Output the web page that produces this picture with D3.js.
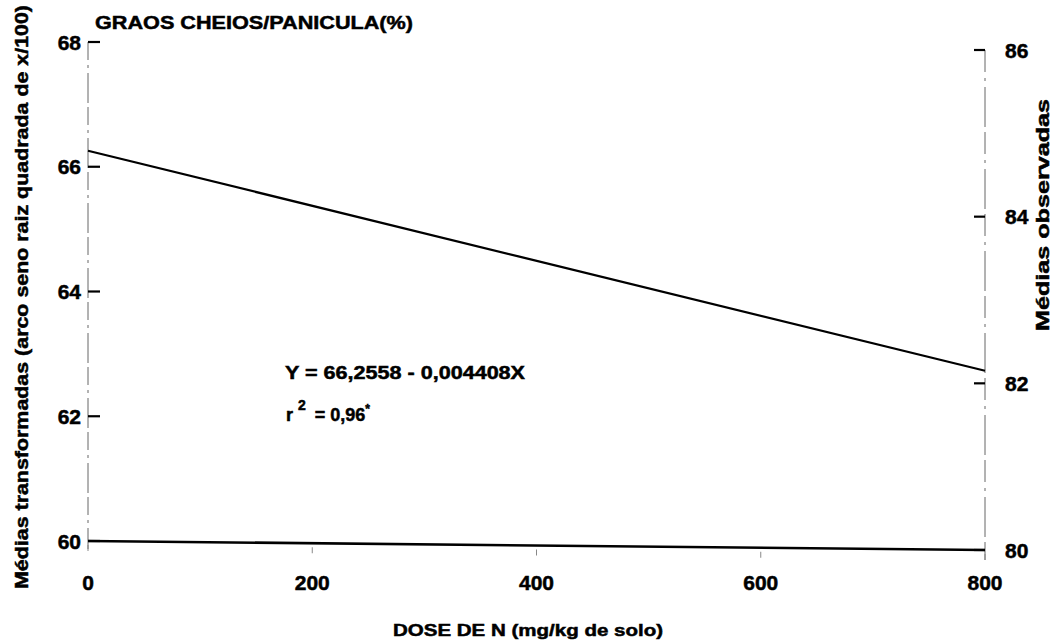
<!DOCTYPE html>
<html>
<head>
<meta charset="utf-8">
<script src="https://cdn.jsdelivr.net/npm/d3@7"></script>
<style>
  html, body { margin: 0; padding: 0; background: #fff; }
  svg { display: block; }
  text { font-family: "Liberation Sans", Arial, sans-serif; font-weight: bold; fill: #000; stroke: #000; stroke-width: 0.5; }
</style>
</head>
<body>
<svg id="chart" width="1062" height="641"></svg>
<script>
// Dose of nitrogen (mg/kg of soil) at the ends of the fitted line
const doses = [0, 800];
// Fitted transformed means at those doses: Y = 66,2558 - 0,004408X
const fittedValues = [66.2558, 62.7294];

const xTickValues = [0, 200, 400, 600, 800];
const leftTickValues = [60, 62, 64, 66, 68];
const rightTickValues = [80, 82, 84, 86];

const chartTitle = "GRAOS CHEIOS/PANICULA(%)";
const xTitle = "DOSE DE N (mg/kg de solo)";
const leftTitle = "Médias transformadas (arco seno raiz quadrada de x/100)";
const rightTitle = "Médias observadas";
const equationText = "Y = 66,2558 - 0,004408X";

const svg = d3.select("#chart");

const x = d3.scaleLinear().domain([0, 800]).range([88, 985]);
const yLeft = d3.scaleLinear().domain([60, 68]).range([541, 42]);
const yRight = d3.scaleLinear().domain([80, 86]).range([550, 50]);

// vertical axis lines (light, broken stroke)
svg.append("line")
  .attr("x1", x(0)).attr("x2", x(0))
  .attr("y1", yLeft(68)).attr("y2", yLeft(60) + 8)
  .attr("stroke", "#666").attr("stroke-width", 1)
  .attr("stroke-dasharray", "18,5,3,5,30,4");
svg.append("line")
  .attr("x1", x(800)).attr("x2", x(800))
  .attr("y1", yRight(86)).attr("y2", yRight(80) + 10)
  .attr("stroke", "#666").attr("stroke-width", 1)
  .attr("stroke-dasharray", "22,6,3,6,40,5");

// baseline from the left 60 level to the right 80 level
svg.append("line")
  .attr("x1", x(0)).attr("y1", yLeft(60))
  .attr("x2", x(800)).attr("y2", yRight(80))
  .attr("stroke", "#000").attr("stroke-width", 2.6);

// left ticks (inward)
const gl = svg.append("g");
gl.selectAll("line").data(leftTickValues).join("line")
  .attr("x1", x(0)).attr("x2", x(0) + 12)
  .attr("y1", d => yLeft(d)).attr("y2", d => yLeft(d))
  .attr("stroke", "#000").attr("stroke-width", 2.2);
gl.selectAll("text").data(leftTickValues).join("text")
  .attr("x", 81).attr("y", d => yLeft(d))
  .attr("text-anchor", "end").attr("dominant-baseline", "central")
  .attr("font-size", 21)
  .text(d => d);

// right ticks (inward)
const gr = svg.append("g");
gr.selectAll("line").data(rightTickValues).join("line")
  .attr("x1", x(800) - 11).attr("x2", x(800))
  .attr("y1", d => yRight(d)).attr("y2", d => yRight(d))
  .attr("stroke", "#000").attr("stroke-width", 2.2);
gr.selectAll("text").data(rightTickValues).join("text")
  .attr("x", 1005).attr("y", d => yRight(d))
  .attr("text-anchor", "start").attr("dominant-baseline", "central")
  .attr("font-size", 21)
  .text(d => d);

// bottom ticks and labels
const gx = svg.append("g");
gx.selectAll("line").data(xTickValues).join("line")
  .attr("x1", d => x(d)).attr("x2", d => x(d))
  .attr("y1", d => yLeft(60) + (yRight(80) - yLeft(60)) * d / 800 + 4)
  .attr("y2", d => yLeft(60) + (yRight(80) - yLeft(60)) * d / 800 + 10)
  .attr("stroke", "#888").attr("stroke-width", 1);
gx.selectAll("text").data(xTickValues).join("text")
  .attr("x", d => x(d)).attr("y", 582)
  .attr("text-anchor", "middle").attr("dominant-baseline", "central")
  .attr("font-size", 21)
  .text(d => d);

// fitted regression line
svg.append("path")
  .datum(doses.map((d, i) => [d, fittedValues[i]]))
  .attr("fill", "none").attr("stroke", "#000").attr("stroke-width", 2.2)
  .attr("d", d3.line().x(d => x(d[0])).y(d => yLeft(d[1])));

// titles
svg.append("text")
  .attr("x", 95).attr("y", 22).attr("dominant-baseline", "central")
  .attr("font-size", 19).attr("textLength", 318).attr("lengthAdjust", "spacingAndGlyphs")
  .text(chartTitle);

svg.append("text")
  .attr("x", 528).attr("y", 630).attr("text-anchor", "middle").attr("dominant-baseline", "central")
  .attr("font-size", 17).attr("textLength", 270).attr("lengthAdjust", "spacingAndGlyphs")
  .text(xTitle);

svg.append("text")
  .attr("transform", "translate(22,297) rotate(-90)")
  .attr("text-anchor", "middle").attr("dominant-baseline", "central")
  .attr("font-size", 18).attr("textLength", 584).attr("lengthAdjust", "spacingAndGlyphs")
  .text(leftTitle);

svg.append("text")
  .attr("transform", "translate(1043,215) rotate(-90)")
  .attr("text-anchor", "middle").attr("dominant-baseline", "central")
  .attr("font-size", 18).attr("textLength", 232).attr("lengthAdjust", "spacingAndGlyphs")
  .text(rightTitle);

// equation and coefficient of determination
svg.append("text")
  .attr("x", 285).attr("y", 373).attr("dominant-baseline", "central")
  .attr("font-size", 18).attr("textLength", 240).attr("lengthAdjust", "spacingAndGlyphs")
  .text(equationText);

const r2 = svg.append("text")
  .attr("x", 286).attr("y", 415).attr("dominant-baseline", "central")
  .attr("font-size", 18);
r2.append("tspan").text("r");
r2.append("tspan").attr("dy", -10).attr("dx", 5).attr("font-size", 14).text("2");
r2.append("tspan").attr("dy", 10).attr("dx", 9).text("= 0,96");
r2.append("tspan").attr("dy", -6).attr("font-size", 12).text("*");
</script>
</body>
</html>
